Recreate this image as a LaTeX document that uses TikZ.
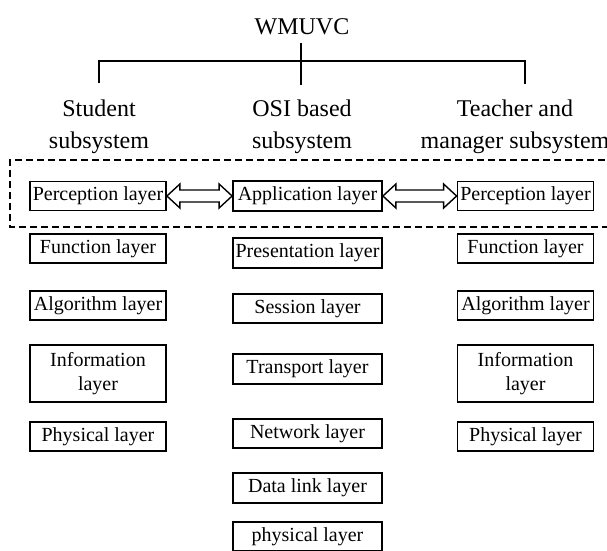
\documentclass[tikz,border=0pt]{standalone}
\usepackage{fontspec}
\setmainfont{Liberation Serif}
\usetikzlibrary{calc}
% hollow double-headed arrow between the east side of #1 and the west side of #2
\newcommand{\linkarrow}[2]{%
  \draw[dblarrow] (#1.east) -- ++(13,-12) -- ++(0,6)
    -- ($(#2.west)+(-13,-6)$) -- ++(0,-6) -- (#2.west)
    -- ++(-13,12) -- ++(0,-6) -- ($(#1.east)+(13,6)$) -- ++(0,6) -- cycle;}
\begin{document}
\begin{tikzpicture}[x=1pt,y=-1pt,
  layerbox/.style={draw,line width=1.8pt,inner sep=0pt,
    font=\fontsize{20}{24}\selectfont,align=center},
  sidebox/.style={layerbox,minimum width=136pt,minimum height=29pt},
  osibox/.style={layerbox,minimum width=149pt,minimum height=29.5pt},
  headlabel/.style={font=\fontsize{24}{32}\selectfont,align=center,
    inner sep=0pt,anchor=north},
  tree/.style={line width=2pt},
  frame/.style={line width=2pt,dash pattern=on 7pt off 4pt},
  dblarrow/.style={draw,fill=white,line width=1.4pt,line join=miter}
]
\useasboundingbox (0,0) rectangle (607,550);

% root and the three subsystems
\node[font=\fontsize{24}{28}\selectfont,inner sep=0pt] (title) at (302,27) {WMUVC};
\node[headlabel] (stu) at (99,100) {Student\\subsystem};
\node[headlabel] (osi) at (302,100) {OSI based\\subsystem};
\node[headlabel] (tm) at (515,100) {Teacher and\\manager subsystem};

% tree connectors
\coordinate (bar) at (301,61);
\draw[tree] ($(title.south)+(-1,8)$) -- ($(osi.north)+(-1,-15)$);
\draw[tree] ($(stu.north)+(0,-17)$) |- (bar) -| ($(tm.north)+(10,-16)$);

% dashed frame around the top layers
\draw[frame] (620,227) -- (10,227) -- (10,160) -- (620,160);

% student subsystem layers
\node[sidebox] (sPer) at (98,196) {Perception layer};
\node[sidebox] (sFun) at (98,248.5) {Function layer};
\node[sidebox] (sAlg) at (98,305.5) {Algorithm layer};
\node[sidebox,minimum height=57pt] (sInf) at (98,373.5) {Information\\layer};
\node[sidebox] (sPhy) at (98,436.5) {Physical layer};

% OSI layers
\node[osibox] (app) at (307.5,196) {Application layer};
\node[osibox] (pre) at (307.5,253) {Presentation layer};
\node[osibox] (ses) at (307.5,308.5) {Session layer};
\node[osibox] (tra) at (307.5,369) {Transport layer};
\node[osibox] (net) at (307.5,433.5) {Network layer};
\node[osibox] (dat) at (307.5,488) {Data link layer};
\node[osibox] (phy) at (307.5,536.5) {physical layer};

% teacher and manager subsystem layers
\node[sidebox] (tPer) at (525.5,196) {Perception layer};
\node[sidebox] (tFun) at (525.5,248.5) {Function layer};
\node[sidebox] (tAlg) at (525.5,305.5) {Algorithm layer};
\node[sidebox,minimum height=57pt] (tInf) at (525.5,373.5) {Information\\layer};
\node[sidebox] (tPhy) at (525.5,436.5) {Physical layer};

% links between perception and application layers
\linkarrow{sPer}{app}
\linkarrow{app}{tPer}
\end{tikzpicture}
\end{document}
